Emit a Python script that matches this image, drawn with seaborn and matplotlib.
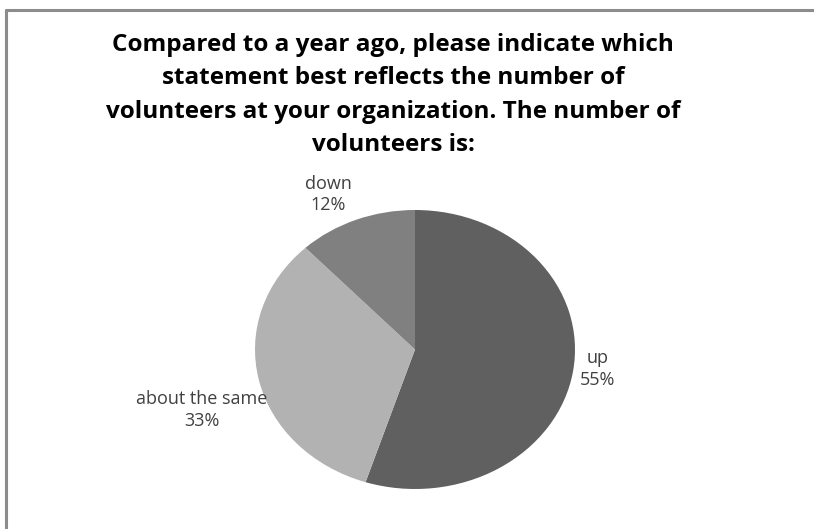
import numpy as np
import matplotlib
matplotlib.use("Agg")
import matplotlib.pyplot as plt
import seaborn as sns
from matplotlib.lines import Line2D

categories = ["up", "about the same", "down"]
values = [55, 33, 12]
colors = ["#606060", "#b2b2b2", "#808080"]
title = ("Compared to a year ago, please indicate which\n"
         "statement best reflects the number of\n"
         "volunteers at your organization. The number of\n"
         "volunteers is:")

sns.set_theme(style="white")
plt.rcParams['font.family'] = ['Open Sans', 'DejaVu Sans']

W, H = 814, 529
fig = plt.figure(figsize=(W / 100, H / 100), dpi=100)
fig.patch.set_facecolor("white")

# frame lines (left and top only visible)
fig.add_artist(Line2D([6 / W, 6 / W], [0, 1 - 9.5 / H], transform=fig.transFigure,
                      color="#8c8c8c", lw=2.2))
fig.add_artist(Line2D([6 / W, 1], [1 - 9.5 / H, 1 - 9.5 / H], transform=fig.transFigure,
                      color="#8c8c8c", lw=2.2))

fig.text(393 / W, 1 - 33 / H, title, ha="center", va="top", fontsize=17.5,
         fontweight="bold", color="black", linespacing=1.52)

cx, cy, rx, ry = 415, 349.5, 160, 139.5
ax = fig.add_axes([(cx - rx) / W, (H - cy - ry) / H, 2 * rx / W, 2 * ry / H])
wedges, _ = ax.pie(values, colors=colors, startangle=90, counterclock=False,
                   radius=1, wedgeprops=dict(linewidth=0))
ax.set_aspect("auto")
ax.set_xlim(-1, 1)
ax.set_ylim(-1, 1)
ax.axis("off")

label_xy = [(1.14, -0.14), (-1.334, -0.434), (-0.544, 1.11)]
for cat, v, (lx, ly) in zip(categories, values, label_xy):
    ax.text(lx, ly, f"{cat}\n{v}%", ha="center", va="center",
            fontsize=13, color="#404040", linespacing=1.25)

fig.savefig("out.png", dpi=100)
